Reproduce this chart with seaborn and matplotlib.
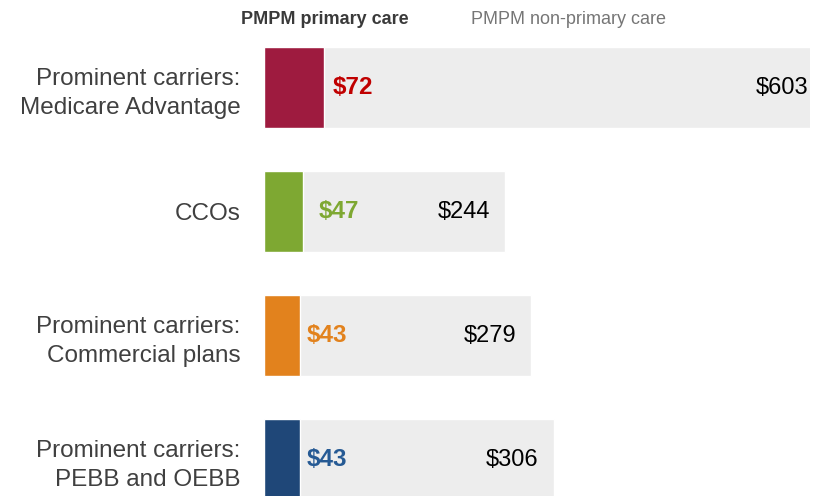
import matplotlib
matplotlib.use("Agg")
import matplotlib.pyplot as plt
import seaborn as sns

sns.set_theme(style="white")
plt.rcParams["font.family"] = ["Liberation Sans", "DejaVu Sans"]

# data
categories = ["Prominent carriers:\nMedicare Advantage", "CCOs",
              "Prominent carriers:\nCommercial plans",
              "Prominent carriers:\nPEBB and OEBB"]
primary = [72, 47, 43, 43]
non_primary = [603, 244, 279, 306]
total = [p + n for p, n in zip(primary, non_primary)]

bar_colors = ["#9E1B3F", "#7EA832", "#E2821D", "#1F4778"]
label_colors = ["#C00000", "#7EA832", "#E2821D", "#265A94"]
gray = "#EDEDED"
text_color = "#404040"

fig = plt.figure(figsize=(8.13, 4.96), dpi=100)
ax = fig.add_axes([264 / 813, 0, 546 / 813, 1])

# ── stacked horizontal bars: gray total behind, coloured primary on top ──
sns.barplot(x=total, y=categories, orient="h", color=gray,
            width=0.66, saturation=1, ax=ax)
sns.barplot(x=primary, y=categories, hue=categories, palette=bar_colors,
            orient="h", width=0.66, saturation=1, legend=False, ax=ax)

ax.set_xlim(0, 658)
ax.set_ylim(3.294, -0.706)
ax.set_xlabel("")
ax.set_ylabel("")
ax.set_xticks([])
ax.tick_params(axis="y", length=0, pad=17, labelsize=17.5,
               labelcolor=text_color)
for lbl in ax.get_yticklabels():
    lbl.set_horizontalalignment("right")
    lbl.set_linespacing(1.38)
sns.despine(ax=ax, left=True, bottom=True)

# ── value labels ──
pad_primary = [6.5, 11, 5, 5]
for i in range(len(categories)):
    ax.annotate(f"${primary[i]}", xy=(primary[i], i),
                xytext=(pad_primary[i], 0),
                textcoords="offset points", ha="left", va="center",
                fontsize=17.5, fontweight="bold", color=label_colors[i],
                annotation_clip=False)
    ax.annotate(f"${non_primary[i]}", xy=(total[i], i), xytext=(-11, 0),
                textcoords="offset points", ha="right", va="center",
                fontsize=17, color="black", annotation_clip=False)

# ── header legend ──
fig.text(241 / 813, 1 - 20 / 496, "PMPM primary care", ha="left",
         va="center", fontsize=13, fontweight="bold", color="#3A3A3A")
fig.text(471 / 813, 1 - 20 / 496, "PMPM non-primary care", ha="left",
         va="center", fontsize=13, color="#767676")

fig.savefig("out.png", dpi=100)
